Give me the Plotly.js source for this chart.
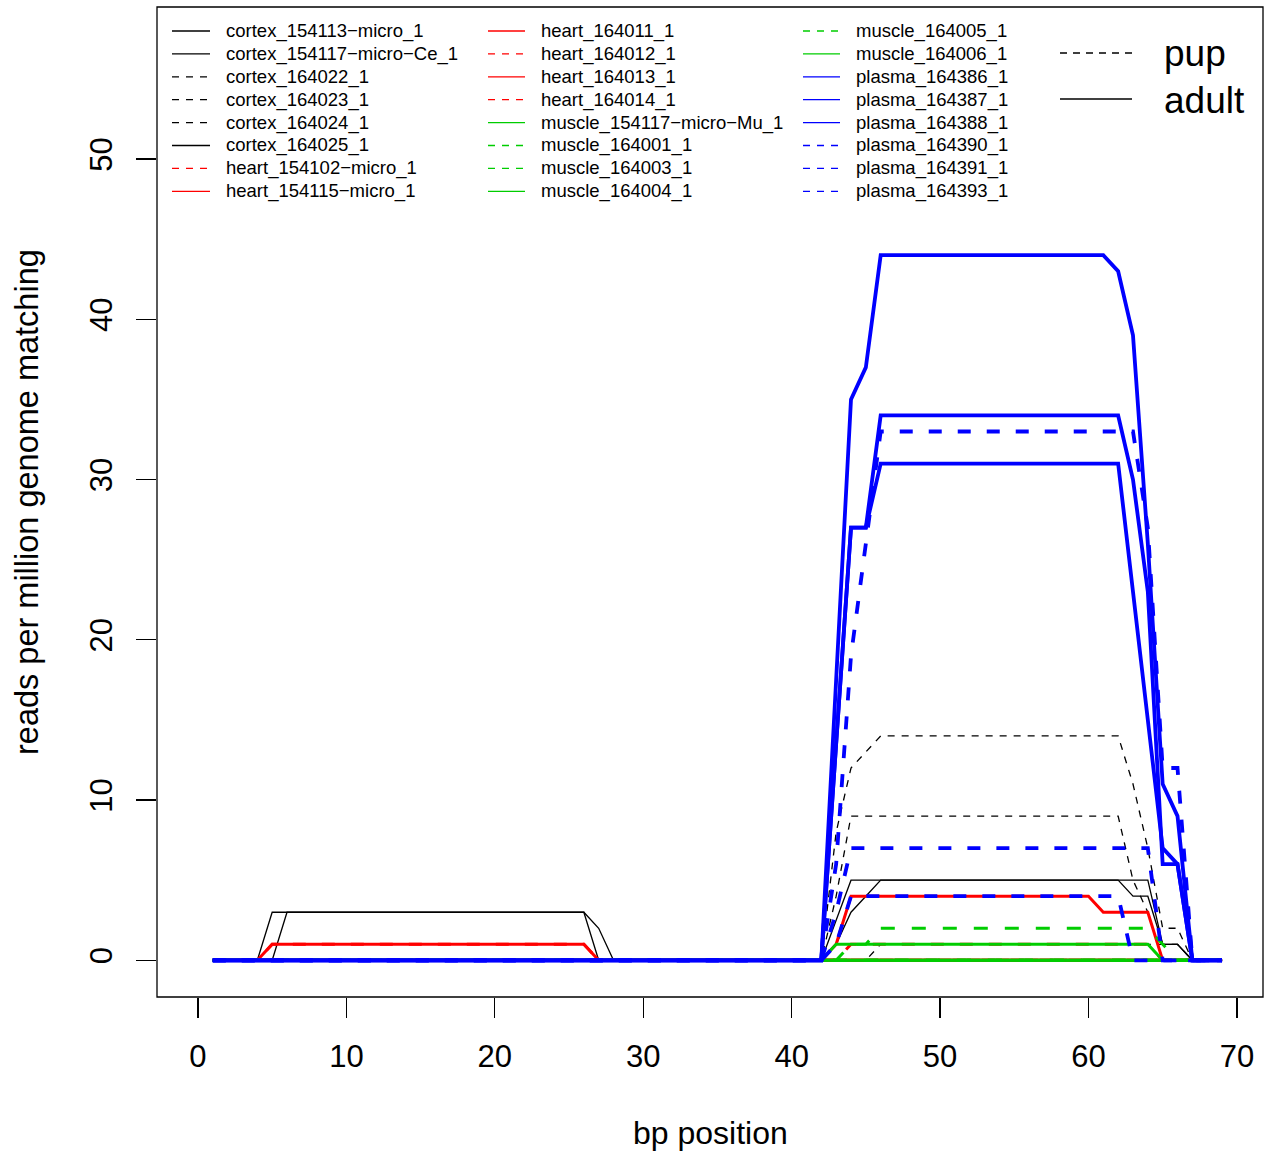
<!DOCTYPE html>
<html>
<head>
<meta charset="utf-8">
<script src="https://cdn.plot.ly/plotly-3.0.1.min.js"></script>
<style>html,body{margin:0;padding:0;background:#fff;}#chart{width:1272px;height:1152px;}</style>
</head>
<body>
<div id="chart"></div>
<script>
// ---------------- DATA ----------------
const bp = [1,2,3,4,5,6,7,8,9,10, 11,12,13,14,15,16,17,18,19,20, 21,22,23,24,25,26,27,28,29,30,
            31,32,33,34,35,36,37,38,39,40, 41,42,43,44,45,46,47,48,49,50, 51,52,53,54,55,56,57,58,59,60,
            61,62,63,64,65,66,67,68,69];

const seriesNames = [
  "cortex_154113\u2212micro_1", "cortex_154117\u2212micro\u2212Ce_1", "cortex_164022_1", "cortex_164023_1",
  "cortex_164024_1", "cortex_164025_1", "heart_154102\u2212micro_1", "heart_154115\u2212micro_1",
  "heart_164011_1", "heart_164012_1", "heart_164013_1", "heart_164014_1",
  "muscle_154117\u2212micro\u2212Mu_1", "muscle_164001_1", "muscle_164003_1", "muscle_164004_1",
  "muscle_164005_1", "muscle_164006_1", "plasma_164386_1", "plasma_164387_1",
  "plasma_164388_1", "plasma_164390_1", "plasma_164391_1", "plasma_164393_1"
];
const tissue = ["cortex","cortex","cortex","cortex","cortex","cortex",
                "heart","heart","heart","heart","heart","heart",
                "muscle","muscle","muscle","muscle","muscle","muscle",
                "plasma","plasma","plasma","plasma","plasma","plasma"];
const stage = ["adult","adult","pup","pup","pup","adult",
               "pup","adult","adult","pup","adult","pup",
               "adult","pup","pup","adult","pup","adult",
               "adult","adult","adult","pup","pup","pup"];

const cortex_154113_micro = [0,0,0,0,3,3,3,3,3,3, 3,3,3,3,3,3,3,3,3,3, 3,3,3,3,3,3,0,0,0,0,
  0,0,0,0,0,0,0,0,0,0, 0,0,0,0,0,0,0,0,0,0, 0,0,0,0,0,0,0,0,0,0, 0,0,0,0,0,0,0,0,0];
const cortex_154117_micro_Ce = [0,0,0,0,0,3,3,3,3,3, 3,3,3,3,3,3,3,3,3,3, 3,3,3,3,3,3,2,0,0,0,
  0,0,0,0,0,0,0,0,0,0, 0,0,1,3,4,5,5,5,5,5, 5,5,5,5,5,5,5,5,5,5, 5,5,4,4,1,1,0,0,0];
const cortex_164022 = [0,0,0,0,0,0,0,0,0,0, 0,0,0,0,0,0,0,0,0,0, 0,0,0,0,0,0,0,0,0,0,
  0,0,0,0,0,0,0,0,0,0, 0,0,8,12,13,14,14,14,14,14, 14,14,14,14,14,14,14,14,14,14, 14,14,11,7,2,2,0,0,0];
const cortex_164023 = [0,0,0,0,0,0,0,0,0,0, 0,0,0,0,0,0,0,0,0,0, 0,0,0,0,0,0,0,0,0,0,
  0,0,0,0,0,0,0,0,0,0, 0,0,4,9,9,9,9,9,9,9, 9,9,9,9,9,9,9,9,9,9, 9,9,5,3,0,0,0,0,0];
const cortex_164024 = [0,0,0,0,0,0,0,0,0,0, 0,0,0,0,0,0,0,0,0,0, 0,0,0,0,0,0,0,0,0,0,
  0,0,0,0,0,0,0,0,0,0, 0,0,0,0,0,1,1,1,1,1, 1,1,1,1,1,1,1,1,1,1, 1,1,1,1,1,1,0,0,0];
const cortex_164025 = [0,0,0,0,0,0,0,0,0,0, 0,0,0,0,0,0,0,0,0,0, 0,0,0,0,0,0,0,0,0,0,
  0,0,0,0,0,0,0,0,0,0, 0,0,2.5,5,5,5,5,5,5,5, 5,5,5,5,5,5,5,5,5,5, 5,5,5,5,1,1,0,0,0];
const heart_154102_micro = [0,0,0,0,1,1,1,1,1,1, 1,1,1,1,1,1,1,1,1,1, 1,1,1,1,1,1,0,0,0,0,
  0,0,0,0,0,0,0,0,0,0, 0,0,0,0,0,0,0,0,0,0, 0,0,0,0,0,0,0,0,0,0, 0,0,0,0,0,0,0,0,0];
const heart_154115_micro = [0,0,0,0,1,1,1,1,1,1, 1,1,1,1,1,1,1,1,1,1, 1,1,1,1,1,1,0,0,0,0,
  0,0,0,0,0,0,0,0,0,0, 0,0,0,0,0,0,0,0,0,0, 0,0,0,0,0,0,0,0,0,0, 0,0,0,0,0,0,0,0,0];
const heart_164011 = [0,0,0,0,0,0,0,0,0,0, 0,0,0,0,0,0,0,0,0,0, 0,0,0,0,0,0,0,0,0,0,
  0,0,0,0,0,0,0,0,0,0, 0,0,1,4,4,4,4,4,4,4, 4,4,4,4,4,4,4,4,4,4, 3,3,3,3,0,0,0,0,0];
const heart_164012 = [0,0,0,0,0,0,0,0,0,0, 0,0,0,0,0,0,0,0,0,0, 0,0,0,0,0,0,0,0,0,0,
  0,0,0,0,0,0,0,0,0,0, 0,0,0,1,1,1,1,1,1,1, 1,1,1,1,1,1,1,1,1,1, 1,1,1,1,0,0,0,0,0];
const heart_164013 = [0,0,0,0,0,0,0,0,0,0, 0,0,0,0,0,0,0,0,0,0, 0,0,0,0,0,0,0,0,0,0,
  0,0,0,0,0,0,0,0,0,0, 0,0,0,0,0,0,0,0,0,0, 0,0,0,0,0,0,0,0,0,0, 0,0,0,0,0,0,0,0,0];
const heart_164014 = [0,0,0,0,0,0,0,0,0,0, 0,0,0,0,0,0,0,0,0,0, 0,0,0,0,0,0,0,0,0,0,
  0,0,0,0,0,0,0,0,0,0, 0,0,0,0,0,0,0,0,0,0, 0,0,0,0,0,0,0,0,0,0, 0,0,0,0,0,0,0,0,0];
const muscle_154117_micro_Mu = [0,0,0,0,0,0,0,0,0,0, 0,0,0,0,0,0,0,0,0,0, 0,0,0,0,0,0,0,0,0,0,
  0,0,0,0,0,0,0,0,0,0, 0,0,0,0,0,0,0,0,0,0, 0,0,0,0,0,0,0,0,0,0, 0,0,0,0,0,0,0,0,0];
const muscle_164001 = [0,0,0,0,0,0,0,0,0,0, 0,0,0,0,0,0,0,0,0,0, 0,0,0,0,0,0,0,0,0,0,
  0,0,0,0,0,0,0,0,0,0, 0,0,0,1,1,2,2,2,2,2, 2,2,2,2,2,2,2,2,2,2, 2,2,2,2,1,0,0,0,0];
const muscle_164003 = [0,0,0,0,0,0,0,0,0,0, 0,0,0,0,0,0,0,0,0,0, 0,0,0,0,0,0,0,0,0,0,
  0,0,0,0,0,0,0,0,0,0, 0,0,0,0,0,0,0,0,0,0, 0,0,0,0,0,0,0,0,0,0, 0,0,0,0,0,0,0,0,0];
const muscle_164004 = [0,0,0,0,0,0,0,0,0,0, 0,0,0,0,0,0,0,0,0,0, 0,0,0,0,0,0,0,0,0,0,
  0,0,0,0,0,0,0,0,0,0, 0,0,1,1,1,1,1,1,1,1, 1,1,1,1,1,1,1,1,1,1, 1,1,1,1,0,0,0,0,0];
const muscle_164005 = [0,0,0,0,0,0,0,0,0,0, 0,0,0,0,0,0,0,0,0,0, 0,0,0,0,0,0,0,0,0,0,
  0,0,0,0,0,0,0,0,0,0, 0,0,0,0,0,0,0,0,0,0, 0,0,0,0,0,0,0,0,0,0, 0,0,0,0,0,0,0,0,0];
const muscle_164006 = [0,0,0,0,0,0,0,0,0,0, 0,0,0,0,0,0,0,0,0,0, 0,0,0,0,0,0,0,0,0,0,
  0,0,0,0,0,0,0,0,0,0, 0,0,0,0,0,0,0,0,0,0, 0,0,0,0,0,0,0,0,0,0, 0,0,0,0,0,0,0,0,0];
const plasma_164386 = [0,0,0,0,0,0,0,0,0,0, 0,0,0,0,0,0,0,0,0,0, 0,0,0,0,0,0,0,0,0,0,
  0,0,0,0,0,0,0,0,0,0, 0,0,17.5,35,37,44,44,44,44,44, 44,44,44,44,44,44,44,44,44,44, 44,43,39,26,11,9,0,0,0];
const plasma_164387 = [0,0,0,0,0,0,0,0,0,0, 0,0,0,0,0,0,0,0,0,0, 0,0,0,0,0,0,0,0,0,0,
  0,0,0,0,0,0,0,0,0,0, 0,0,13.5,27,27,34,34,34,34,34, 34,34,34,34,34,34,34,34,34,34, 34,34,30,23,6,6,0,0,0];
const plasma_164388 = [0,0,0,0,0,0,0,0,0,0, 0,0,0,0,0,0,0,0,0,0, 0,0,0,0,0,0,0,0,0,0,
  0,0,0,0,0,0,0,0,0,0, 0,0,13.5,27,27,31,31,31,31,31, 31,31,31,31,31,31,31,31,31,31, 31,31,23,15,7,6,0,0,0];
const plasma_164390 = [0,0,0,0,0,0,0,0,0,0, 0,0,0,0,0,0,0,0,0,0, 0,0,0,0,0,0,0,0,0,0,
  0,0,0,0,0,0,0,0,0,0, 0,0,6,19,26,33,33,33,33,33, 33,33,33,33,33,33,33,33,33,33, 33,33,33,27,12,12,0,0,0];
const plasma_164391 = [0,0,0,0,0,0,0,0,0,0, 0,0,0,0,0,0,0,0,0,0, 0,0,0,0,0,0,0,0,0,0,
  0,0,0,0,0,0,0,0,0,0, 0,0,3,7,7,7,7,7,7,7, 7,7,7,7,7,7,7,7,7,7, 7,7,7,7,0,0,0,0,0];
const plasma_164393 = [0,0,0,0,0,0,0,0,0,0, 0,0,0,0,0,0,0,0,0,0, 0,0,0,0,0,0,0,0,0,0,
  0,0,0,0,0,0,0,0,0,0, 0,0,1,4,4,4,4,4,4,4, 4,4,4,4,4,4,4,4,4,4, 4,4,0,0,0,0,0,0,0];

const seriesValues = [
  cortex_154113_micro, cortex_154117_micro_Ce, cortex_164022, cortex_164023, cortex_164024, cortex_164025,
  heart_154102_micro, heart_154115_micro, heart_164011, heart_164012, heart_164013, heart_164014,
  muscle_154117_micro_Mu, muscle_164001, muscle_164003, muscle_164004, muscle_164005, muscle_164006,
  plasma_164386, plasma_164387, plasma_164388, plasma_164390, plasma_164391, plasma_164393
];

const xTicks = [0,10,20,30,40,50,60,70];
const yTicks = [0,10,20,30,40,50];
const stageLabels = ["pup","adult"];

// ---------------- STYLE ----------------
const FONT = "Liberation Sans, Arial, Helvetica, sans-serif";
const colorOf = {cortex:"#000000", heart:"#FF0000", muscle:"#00CD00", plasma:"#0000FF"};
const widthOf = {cortex:1.3, heart:3.0, muscle:3.0, plasma:3.8};
const dashOf  = {cortex:"7px,7px", heart:"13px,16px", muscle:"14px,17px", plasma:"13px,16px"};

// plot area in pixels
const L = 157, R = 1263, T = 7, B = 997, W = 1272, H = 1152;
const px = x => (x - L) / (R - L);
const py = y => (B - y) / (B - T);

const traces = seriesValues.map((vals, i) => ({
  type: "scatter", mode: "lines", x: bp, y: vals, name: seriesNames[i],
  line: {color: colorOf[tissue[i]], width: widthOf[tissue[i]],
         dash: stage[i] === "pup" ? dashOf[tissue[i]] : "solid"},
  hoverinfo: "skip", showlegend: false
}));

const shapes = [
  {type:"rect", xref:"paper", yref:"paper", x0:0, x1:1, y0:0, y1:1,
   line:{color:"#000", width:1.3}, fillcolor:"rgba(0,0,0,0)", layer:"above"}
];
const annotations = [];

// custom legend (3 columns, column-major)
const colLineX = [[172,210],[488,525],[803,840]];
const colTextX = [224, 539, 854];
seriesNames.forEach((nm, i) => {
  const c = Math.floor(i / 8), r = i % 8;
  const yy = 31 + 22.9 * r;
  shapes.push({type:"line", xref:"paper", yref:"paper",
    x0: px(colLineX[c][0]), x1: px(colLineX[c][1]), y0: py(yy), y1: py(yy),
    line:{color: colorOf[tissue[i]], width:1.3, dash: stage[i]==="pup" ? "7px,7px" : "solid"}});
  annotations.push({xref:"paper", yref:"paper", x: px(colTextX[c]), y: py(yy),
    xanchor:"left", yanchor:"middle", showarrow:false, text: nm,
    font:{family:FONT, size:18.5, color:"#000"}});
});

// pup / adult legend
const stageY = [54, 100];
stageLabels.forEach((s, k) => {
  shapes.push({type:"line", xref:"paper", yref:"paper",
    x0: px(1060), x1: px(1132), y0: py(stageY[k] - 1), y1: py(stageY[k] - 1),
    line:{color:"#000", width:1.3, dash: s==="pup" ? "7px,6px" : "solid"}});
  annotations.push({xref:"paper", yref:"paper", x: px(1162), y: py(stageY[k]),
    xanchor:"left", yanchor:"middle", showarrow:false, text: s,
    font:{family:FONT, size:37, color:"#000"}});
});

// axis titles
annotations.push({xref:"paper", yref:"paper", x: px(710), y: py(1133), xanchor:"center", yanchor:"middle",
  showarrow:false, text:"bp position", font:{family:FONT, size:32, color:"#000"}});
annotations.push({xref:"paper", yref:"paper", x: px(27), y: py(502), xanchor:"center", yanchor:"middle",
  showarrow:false, textangle:-90, text:"reads per million genome matching",
  font:{family:FONT, size:32.5, color:"#000"}});

const layout = {
  width: W, height: H,
  margin: {l: L, r: W - R, t: T, b: H - B, pad: 0},
  paper_bgcolor: "#fff", plot_bgcolor: "#fff",
  showlegend: false,
  font: {family: FONT, color: "#000"},
  xaxis: {range: [-2.76, 71.76], tickmode: "array", tickvals: xTicks, ticktext: xTicks.map(String),
    ticks: "outside", ticklen: 20, tickwidth: 1.3, tickcolor: "#000",
    showgrid: false, zeroline: false, showline: false,
    tickfont: {family: FONT, size: 31, color: "#000"}, ticklabelstandoff: 12, fixedrange: true},
  yaxis: {range: [-2.29, 59.49], tickmode: "array", tickvals: yTicks, ticktext: yTicks.map(String),
    ticks: "outside", ticklen: 20, tickwidth: 1.3, tickcolor: "#000", tickangle: -90,
    showgrid: false, zeroline: false, showline: false,
    tickfont: {family: FONT, size: 31, color: "#000"}, ticklabelstandoff: 12, fixedrange: true},
  shapes: shapes,
  annotations: annotations
};

Plotly.newPlot("chart", traces, layout, {displayModeBar: false, staticPlot: true});
</script>
</body>
</html>
